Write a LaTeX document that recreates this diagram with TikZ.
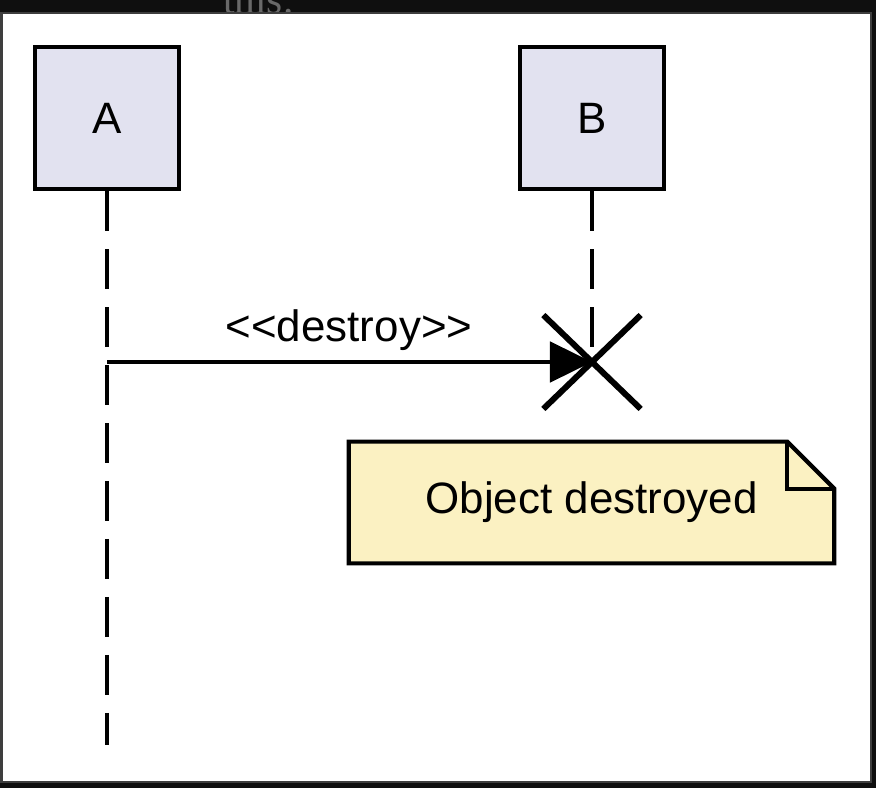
\documentclass[tikz,border=0pt]{standalone}
\usepackage{fontspec}
\setmainfont{Liberation Sans}[Ligatures=TeXOff]
\newfontfamily\pagefont{Liberation Serif}
\usetikzlibrary{arrows.meta,shapes.misc}
\definecolor{SeqPageBg}{RGB}{15,15,15}
\definecolor{SeqPageFrame}{RGB}{62,62,62}
\definecolor{SeqPageText}{RGB}{105,105,105}
\definecolor{SeqParticipantFill}{RGB}{226,226,240}
\definecolor{SeqNoteFill}{RGB}{251,241,194}

\begin{document}
\begin{tikzpicture}[x=0.02cm,y=-0.02cm,font=\fontsize{25}{30}\selectfont,participant/.style={draw,line width=2.4pt,fill=SeqParticipantFill,minimum width=82pt,minimum height=80.8pt,inner sep=0pt},lifeline/.style={line width=2.3pt,dash pattern=on 22.8pt off 10.2pt},msg/.style={line width=2.3pt,-{Triangle[length=24pt,width=23pt]}},destroymark/.style={cross out,draw,line width=3.4pt,minimum width=52pt,minimum height=50pt,inner sep=0pt},notebox/.style={minimum width=276pt,minimum height=68.9pt,inner sep=0pt},noteline/.style={draw,line width=2.4pt,fill=SeqNoteFill,line join=miter}]
\useasboundingbox (0,0) rectangle (876,788);
\fill[SeqPageBg] (0,0) rectangle (876,788);
\begin{scope}
   \clip (0,0) rectangle (876,12.5);
   \node[anchor=base west,inner sep=0pt,text=SeqPageText,font=\pagefont\fontsize{23.5}{28}\selectfont] (pagetext) at (223,13) {this.};
\end{scope}
\draw[SeqPageFrame,line width=1.14pt,fill=white] (1.5,12.5) rectangle (870.5,782);
\foreach \name/\x in %
{A/107,B/592} {
   \node[participant] (\name) at (\x,118) {\name};
}
\coordinate (Aend) at (107,745);
\coordinate (Amsg) at (107,362);
\coordinate (Bdel) at (592,362);
\draw[lifeline] (A) -- (Aend);
\draw[lifeline] (B) -- (Bdel);
\draw[msg] (Amsg) -- (Bdel);
\node[anchor=base] (destroylbl) at (349,341) {<<destroy>>};
\node[destroymark] (Bx) at (Bdel) {};
\node[notebox] (note) at (591.5,502.5) {};
\draw[noteline] (note.south west) -- (note.north west) -- ([xshift=-26.8pt]note.north east) -- ([yshift=-26.8pt]note.north east) -- (note.south east) -- cycle;
\draw[line width=2.4pt] ([xshift=-26.8pt]note.north east) |- ([yshift=-26.8pt]note.north east);
\node (notetext) at (note.center) {Object destroyed};
\end{tikzpicture}
\end{document}
